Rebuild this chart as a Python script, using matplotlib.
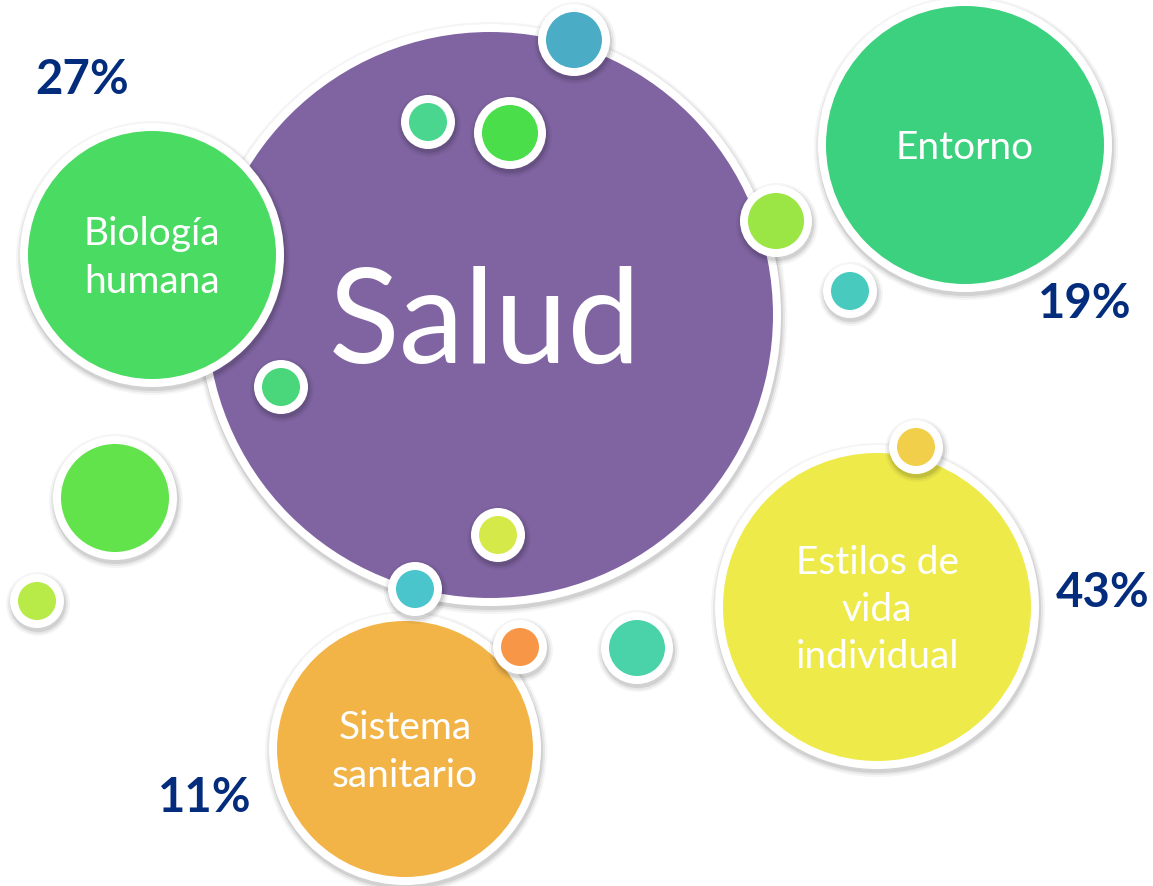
import matplotlib
matplotlib.use("Agg")
import matplotlib.pyplot as plt
from matplotlib.patches import Circle

# chart data
categories = ["Biología\nhumana", "Entorno", "Estilos de\nvida\nindividual", "Sistema\nsanitario"]
percent = [27, 19, 43, 11]
center_label = "Salud"

# layout (pixel space of the slide)
cat_xy = [(152, 256), (965, 146), (877, 608), (405, 750)]
cat_r = [124, 139, 154, 128]
cat_colors = ["#4ADB63", "#3CD17E", "#EEEA4A", "#F2B447"]
pct_xy = [(82, 80), (1085, 304), (1103, 593), (205, 798)]

salud_xy, salud_r, salud_color = (490, 316), 283, "#8064A2"

# small decorative dots: x, y, r, colour
dots_under = [
    (115, 499, 54, "#62E24B"),
    (37, 602, 19, "#B8EA48"),
    (637, 649, 28, "#4AD3A8"),
]
dots_over = [
    (574, 41, 28, "#4BACC6"),
    (428, 123, 19, "#4AD68E"),
    (510, 134, 28, "#4ADE4B"),
    (776, 222, 28, "#9BE545"),
    (850, 292, 19, "#48CBBE"),
    (281, 388, 19, "#4AD67A"),
    (498, 536, 19, "#D5EA49"),
    (415, 590, 19, "#4AC5CB"),
    (520, 648, 19, "#F79646"),
    (916, 448, 19, "#F2CF4A"),
]

RING = 8


def bubble(ax, x, y, r, color, z):
    # soft drop shadow
    for k, a in [(5, 0.04), (3, 0.06), (1, 0.09)]:
        ax.add_patch(Circle((x + 1, y + 3), r + RING + k, color="black",
                            alpha=a, lw=0, zorder=z))
    ax.add_patch(Circle((x, y), r + RING, color="white", lw=0, zorder=z + 0.1))
    ax.add_patch(Circle((x, y), r, color=color, lw=0, zorder=z + 0.2))


fig = plt.figure(figsize=(11.53, 8.87), dpi=100)
ax = fig.add_axes([0, 0, 1, 1])
ax.set_xlim(0, 1153)
ax.set_ylim(887, 0)
ax.set_aspect("equal")
ax.axis("off")

z = 1
for x, y, r, c in dots_under:
    bubble(ax, x, y, r, c, z)
    z += 1

bubble(ax, salud_xy[0], salud_xy[1], salud_r, salud_color, z)
z += 1
ax.text(salud_xy[0] - 5, salud_xy[1] + 10, center_label, color="white", fontsize=94,
        family="Lato", ha="center", va="center", zorder=50)

order = [1, 0, 3, 2]
for i in order:
    (x, y), r, c = cat_xy[i], cat_r[i], cat_colors[i]
    bubble(ax, x, y, r, c, z)
    z += 1
    ax.text(x, y + 2, categories[i], color="white", fontsize=28, family="Lato",
            ha="center", va="center", linespacing=1.38, zorder=50)

for x, y, r, c in dots_over:
    bubble(ax, x, y, r, c, z)
    z += 1

for (x, y), p in zip(pct_xy, percent):
    ax.text(x, y, f"{p}%", color="#032C7C", fontsize=34, family="Lato",
            fontweight="bold", ha="center", va="center", zorder=50)

fig.savefig("out.png", dpi=100, facecolor="white")
